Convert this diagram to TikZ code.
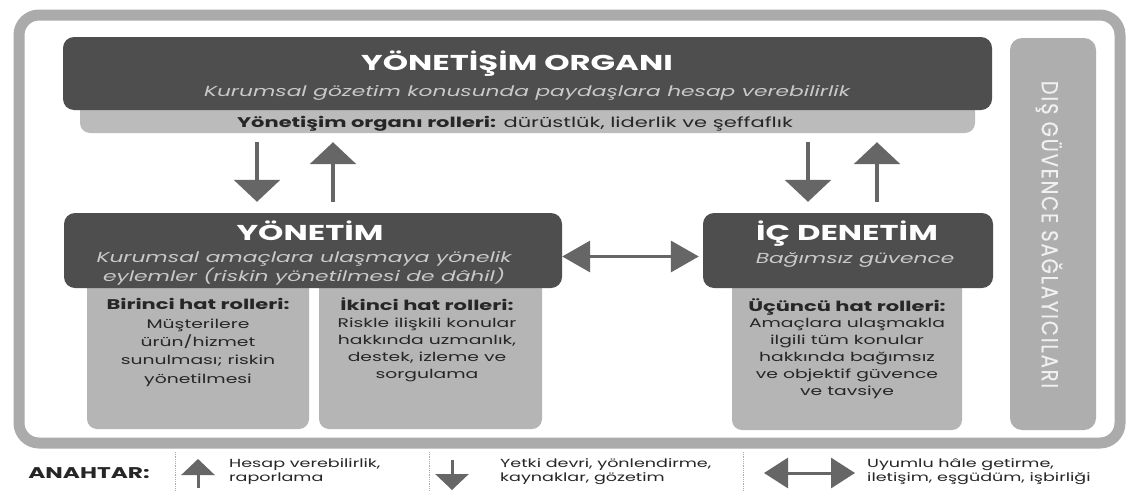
\documentclass[tikz,border=0pt]{standalone}
\usepackage{fontspec}
\setmainfont{Poppins}[FakeStretch=1.5]
\newfontfamily\barfont{Poppins}[FakeStretch=0.85,LetterSpace=8,FakeBold=0.4]
\usetikzlibrary{arrows.meta,positioning}

\definecolor{boxdark}{HTML}{4E4E4E}
\definecolor{boxlight}{HTML}{B5B5B5}
\definecolor{bandlight}{HTML}{BBBBBB}
\definecolor{framegray}{HTML}{ABABAB}
\definecolor{arrowgray}{HTML}{666666}
\definecolor{subgray}{HTML}{C9C9C9}
\definecolor{inkgray}{HTML}{262626}

\newcommand{\rolehead}[1]{{\fontsize{14}{14}\selectfont\bfseries #1}}

% multi-line texts are placed by the baseline of their last line
\tikzset{
  darkbox/.style={fill=boxdark, rounded corners=11pt, inner sep=0pt},
  litebox/.style={fill=boxlight, rounded corners=10pt, inner sep=0pt},
  titletext/.style={text=white, inner sep=0pt, anchor=base, font=\fontsize{21.5}{22}\selectfont\bfseries},
  subtext/.style={text=subgray, inner sep=0pt, anchor=base, align=center, font=\fontsize{14.5}{16}\selectfont\itshape},
  roletext/.style={text=inkgray, inner sep=0pt, anchor=base, align=center, font=\fontsize{12.5}{18.3}\selectfont},
  keytext/.style={text=inkgray, inner sep=0pt, anchor=base west, align=left, font=\fontsize{11.7}{14}\selectfont},
  flowarrow/.style={draw=arrowgray, line width=3.5pt, -{Triangle[width=46pt,length=22pt]}},
  swaparrow/.style={draw=arrowgray, line width=3.5pt, {Triangle[width=31pt,length=28pt]}-{Triangle[width=31pt,length=28pt]}},
  keyarrow/.style={draw=arrowgray, line width=3pt, -{Triangle[width=33pt,length=16pt]}},
  keyswap/.style={draw=arrowgray, line width=3pt, {Triangle[width=30pt,length=24pt]}-{Triangle[width=30pt,length=24pt]}},
  keysep/.style={draw=framegray, line width=0.8pt, densely dotted}
}

\begin{document}
\begin{tikzpicture}[x=1pt,y=-1pt]
\useasboundingbox (0,0) rectangle (1140,498);
\fill[white] (0,0) rectangle (1140,498);

% outer frame
\draw[framegray, line width=11pt, rounded corners=20pt] (19,15) rectangle (1120,443);

% governing body
\node[litebox, fill=bandlight, minimum width=895pt, minimum height=43pt] (govroles) at (527.5,111.5) {};
\node[darkbox, minimum width=929pt, minimum height=73pt] (gov) at (527.5,73.5) {};
\node[titletext] (govtitle) at (517,70) {YÖNETİŞİM ORGANI};
\node[subtext] (govsub) at (527,96) {Kurumsal gözetim konusunda paydaşlara hesap verebilirlik};
\node[roletext, font=\fontsize{14}{14}\selectfont] (govrolestext) at (515,127)
  {\textbf{Yönetişim organı rolleri:} dürüstlük, liderlik ve şeffaflık};

% management and its two lines
\node[litebox, minimum width=222pt, minimum height=159pt] (line1) at (198,349.5) {};
\node[litebox, minimum width=223pt, minimum height=159pt] (line2) at (430.5,349.5) {};
\node[darkbox, minimum width=498pt, minimum height=75pt] (mgmt) at (313,250.5) {};
\node[titletext] (mgmttitle) at (310,240) {YÖNETİM};
\node[subtext] (mgmtsub) at (304,281) {Kurumsal amaçlara ulaşmaya yönelik\\eylemler (riskin yönetilmesi de dâhil)};
\node[roletext] (line1text) at (198,383)
  {\rolehead{Birinci hat rolleri:}\\Müşterilere\\ürün/hizmet\\sunulması; riskin\\yönetilmesi};
\node[roletext, font=\fontsize{12.5}{17}\selectfont] (line2text) at (427,378)
  {\rolehead{İkinci hat rolleri:}\\Riskle ilişkili konular\\hakkında uzmanlık,\\destek, izleme ve\\sorgulama};

% internal audit
\node[litebox, minimum width=230pt, minimum height=160pt] (line3) at (847,350) {};
\node[darkbox, minimum width=290pt, minimum height=75pt] (audit) at (848,250.5) {};
\node[titletext] (audittitle) at (847,240) {İÇ DENETİM};
\node[subtext] (auditsub) at (855,263) {Bağımsız güvence};
\node[roletext, font=\fontsize{12.5}{16.8}\selectfont] (line3text) at (847,395)
  {\rolehead{Üçüncü hat rolleri:}\\Amaçlara ulaşmakla\\ilgili tüm konular\\hakkında bağımsız\\ve objektif güvence\\ve tavsiye};

% external assurance
\node[litebox, fill=boxlight!96!black, rounded corners=12pt, minimum width=86pt, minimum height=392pt] (ext) at (1053,234) {};
\node[rotate=-90, text=white!94!black, inner sep=0pt, font=\barfont\fontsize{23}{24}\selectfont] (exttext) at (1049,234.5)
  {DIŞ GÜVENCE SAĞLAYICILARI};

% arrows between the boxes
\coordinate (ldown) at (257,0);
\coordinate (lup) at (333,0);
\coordinate (rdown) at (808,0);
\coordinate (rup) at (877,0);
\draw[flowarrow, shorten <=9pt, shorten >=11pt] (govroles.south -| ldown) -- (mgmt.north -| ldown);
\draw[flowarrow, shorten <=11pt, shorten >=9pt] (mgmt.north -| lup) -- (govroles.south -| lup);
\draw[flowarrow, shorten <=9pt, shorten >=11pt] (govroles.south -| rdown) -- (audit.north -| rdown);
\draw[flowarrow, shorten <=11pt, shorten >=9pt] (audit.north -| rup) -- (govroles.south -| rup);
\draw[swaparrow, shorten >=4pt] ([yshift=-6pt]mgmt.east) -- ([yshift=-6pt]audit.west);

% key
\node[inner sep=0pt, anchor=base, text=inkgray, font=\fontsize{15.5}{16}\selectfont\bfseries] (key) at (89,478.5) {ANAHTAR:};
\draw[keysep] (175,452) -- (175,490);
\draw[keysep] (429,452) -- (429,490);
\draw[keysep] (743,452) -- (743,490);
\draw[keyarrow] (198,488) -- (198,459);
\node[keytext] (keyup) at (229,481) {Hesap verebilirlik,\\raporlama};
\draw[keyarrow] (452,460) -- (452,490);
\node[keytext] (keydown) at (500,481) {Yetki devri, yönlendirme,\\kaynaklar, gözetim};
\draw[keyswap] (764,473) -- (855,473);
\node[keytext] (keyswap) at (867,481) {Uyumlu hâle getirme,\\iletişim, eşgüdüm, işbirliği};
\end{tikzpicture}
\end{document}
